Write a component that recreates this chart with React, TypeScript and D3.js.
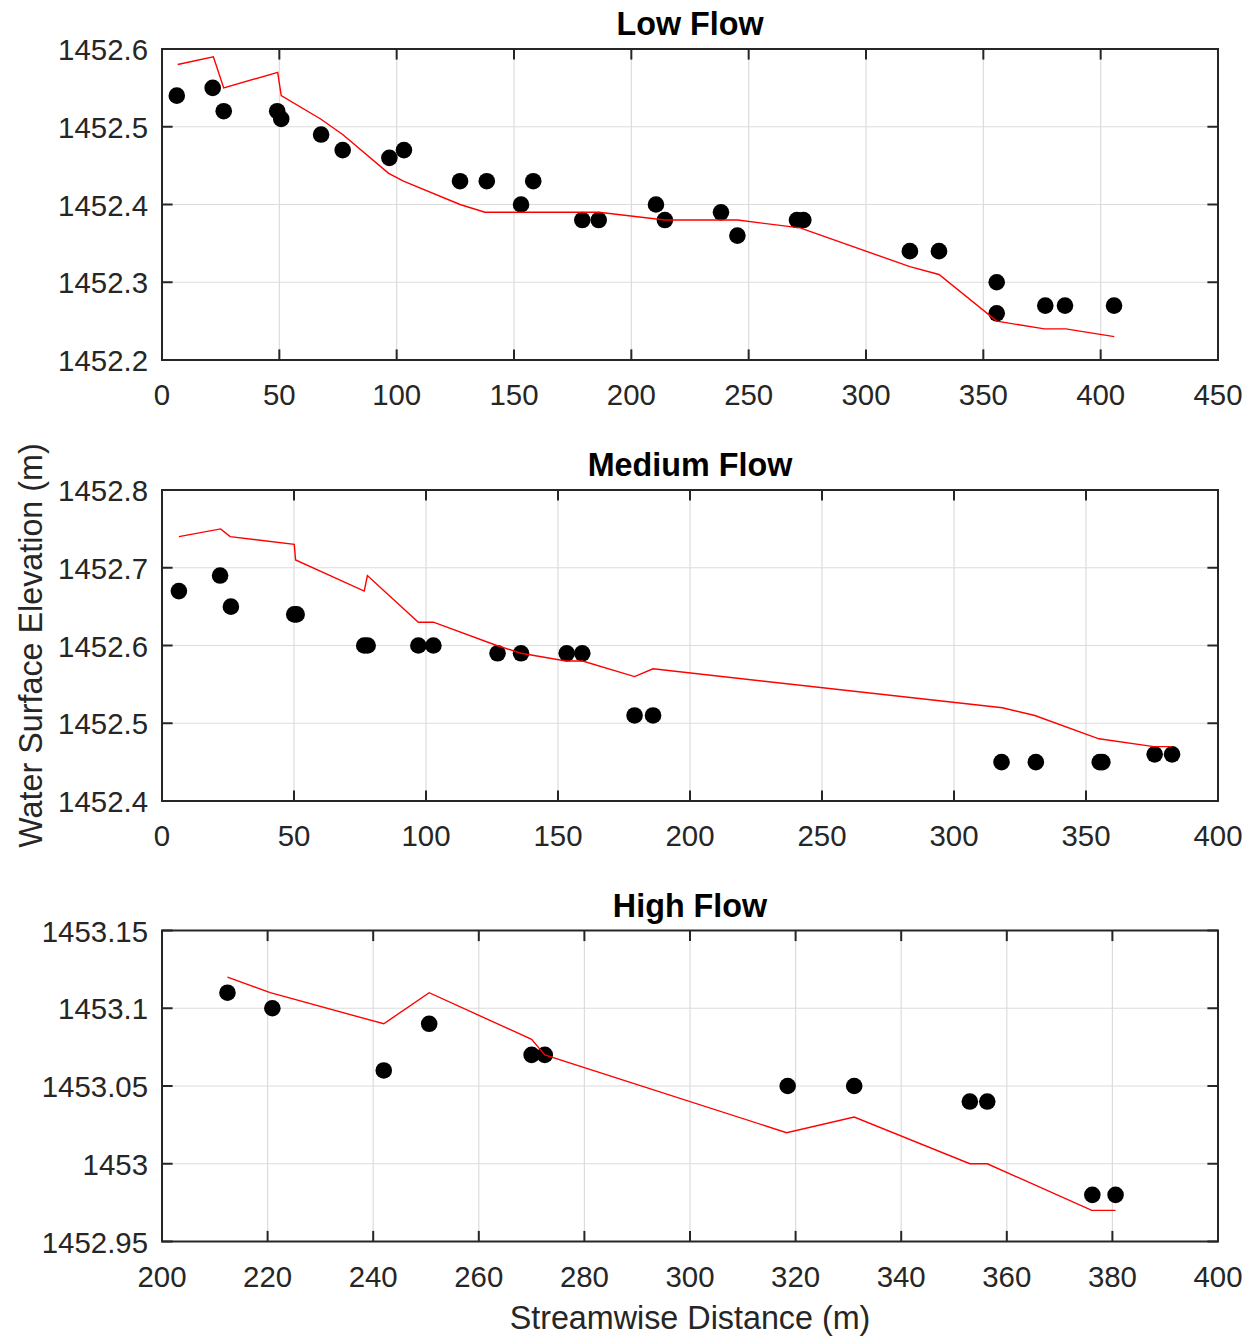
import React from 'react';
import * as d3 from 'd3';

// ---------- Data ----------
// Low Flow
const lowObsX = [6.3, 21.6, 26.3, 49.1, 50.8, 67.8, 77.0, 96.9, 103.1, 127.0, 138.4, 153.0, 158.2, 179.1, 186.1, 210.5, 214.3, 238.2, 245.2, 270.6, 273.3, 318.7, 331.1, 355.7, 355.7, 376.4, 384.8, 405.7];
const lowObsY = [1452.54, 1452.55, 1452.52, 1452.52, 1452.51, 1452.49, 1452.47, 1452.46, 1452.47, 1452.43, 1452.43, 1452.40, 1452.43, 1452.38, 1452.38, 1452.40, 1452.38, 1452.39, 1452.36, 1452.38, 1452.38, 1452.34, 1452.34, 1452.30, 1452.26, 1452.27, 1452.27, 1452.27];
const lowModX = [6.7, 21.9, 26.3, 49.3, 50.8, 67.6, 77.0, 96.6, 102.9, 127.0, 137.6, 186.2, 214.3, 245.3, 271.9, 318.7, 331.1, 355.7, 376.0, 385.2, 405.8];
const lowModY = [1452.58, 1452.59, 1452.55, 1452.57, 1452.54, 1452.51, 1452.49, 1452.44, 1452.43, 1452.40, 1452.39, 1452.39, 1452.38, 1452.38, 1452.37, 1452.32, 1452.31, 1452.25, 1452.24, 1452.24, 1452.23];
const lowXTicks = [0, 50, 100, 150, 200, 250, 300, 350, 400, 450];
const lowYTicks = [1452.2, 1452.3, 1452.4, 1452.5, 1452.6];

// Medium Flow
const medObsX = [6.4, 22.0, 26.1, 50.1, 51.0, 76.6, 77.9, 97.1, 102.8, 127.1, 136.0, 153.3, 159.2, 179.0, 186.0, 318.0, 331.0, 355.2, 356.2, 376.0, 382.6];
const medObsY = [1452.67, 1452.69, 1452.65, 1452.64, 1452.64, 1452.60, 1452.60, 1452.60, 1452.60, 1452.59, 1452.59, 1452.59, 1452.59, 1452.51, 1452.51, 1452.45, 1452.45, 1452.45, 1452.45, 1452.46, 1452.46];
const medModX = [6.4, 22.2, 25.8, 50.1, 50.6, 76.6, 77.8, 97.1, 102.8, 126.8, 136.0, 153.0, 159.3, 179.0, 186.0, 318.3, 330.6, 354.9, 375.7, 382.6];
const medModY = [1452.74, 1452.75, 1452.74, 1452.73, 1452.71, 1452.67, 1452.69, 1452.63, 1452.63, 1452.60, 1452.59, 1452.58, 1452.58, 1452.56, 1452.57, 1452.52, 1452.51, 1452.48, 1452.47, 1452.47];
const medXTicks = [0, 50, 100, 150, 200, 250, 300, 350, 400];
const medYTicks = [1452.4, 1452.5, 1452.6, 1452.7, 1452.8];

// High Flow
const highObsX = [212.4, 220.9, 242.0, 250.6, 270.0, 272.5, 318.5, 331.1, 353.0, 356.3, 376.2, 380.6];
const highObsY = [1453.11, 1453.10, 1453.06, 1453.09, 1453.07, 1453.07, 1453.05, 1453.05, 1453.04, 1453.04, 1452.98, 1452.98];
const highModX = [212.4, 220.5, 242.0, 250.6, 270.0, 272.5, 318.3, 331.1, 353.0, 356.3, 376.1, 380.6];
const highModY = [1453.12, 1453.11, 1453.09, 1453.11, 1453.08, 1453.07, 1453.02, 1453.03, 1453.00, 1453.00, 1452.97, 1452.97];
const highXTicks = [200, 220, 240, 260, 280, 300, 320, 340, 360, 380, 400];
const highYTicks = [1452.95, 1453.0, 1453.05, 1453.1, 1453.15];

// ---------- Layout ----------
const W = 1251;
const H = 1343;
const LEFT = 162;
const RIGHT = 1218;
const FONT = '"Liberation Sans", Arial, Helvetica, sans-serif';
const TXT = '#262626';
const TICK_FS = 29.4;
const LABEL_FS = 32.3;
const TICK_LEN = 10.6;

const fmt = (v: number) => String(Number(v.toFixed(2)));

type PanelProps = {
  title: string;
  top: number;
  bottom: number;
  xTicks: number[];
  yTicks: number[];
  obsX: number[];
  obsY: number[];
  modX: number[];
  modY: number[];
};

function Panel({ title, top, bottom, xTicks, yTicks, obsX, obsY, modX, modY }: PanelProps) {
  const x = d3.scaleLinear().domain([xTicks[0], xTicks[xTicks.length - 1]]).range([LEFT, RIGHT]);
  const y = d3.scaleLinear().domain([yTicks[0], yTicks[yTicks.length - 1]]).range([bottom, top]);
  const idx = d3.range(modX.length);
  const line = d3
    .line<number>()
    .x((i) => x(modX[i]))
    .y((i) => y(modY[i]));
  return (
    <g>
      {xTicks.map((t) => (
        <line key={'gx' + t} x1={x(t)} x2={x(t)} y1={top} y2={bottom} stroke="#dcdcdc" strokeWidth={1.2} />
      ))}
      {yTicks.map((t) => (
        <line key={'gy' + t} x1={LEFT} x2={RIGHT} y1={y(t)} y2={y(t)} stroke="#dcdcdc" strokeWidth={1.2} />
      ))}
      {obsX.map((v, i) => (
        <circle key={'o' + i} cx={x(v)} cy={y(obsY[i])} r={8.3} fill="#000" />
      ))}
      <path d={line(idx) || ''} fill="none" stroke="#ff0000" strokeWidth={1.4} />
      {xTicks.map((t) => (
        <g key={'tx' + t}>
          <line x1={x(t)} x2={x(t)} y1={bottom} y2={bottom - TICK_LEN} stroke={TXT} strokeWidth={2} />
          <line x1={x(t)} x2={x(t)} y1={top} y2={top + TICK_LEN} stroke={TXT} strokeWidth={2} />
          <text x={x(t)} y={bottom + 45} textAnchor="middle" fontSize={TICK_FS} fill={TXT} fontFamily={FONT}>
            {fmt(t)}
          </text>
        </g>
      ))}
      {yTicks.map((t) => (
        <g key={'ty' + t}>
          <line x1={LEFT} x2={LEFT + TICK_LEN} y1={y(t)} y2={y(t)} stroke={TXT} strokeWidth={2} />
          <line x1={RIGHT} x2={RIGHT - TICK_LEN} y1={y(t)} y2={y(t)} stroke={TXT} strokeWidth={2} />
          <text x={148} y={y(t) + 11} textAnchor="end" fontSize={TICK_FS} fill={TXT} fontFamily={FONT}>
            {fmt(t)}
          </text>
        </g>
      ))}
      <rect x={LEFT} y={top} width={RIGHT - LEFT} height={bottom - top} fill="none" stroke={TXT} strokeWidth={2} />
      <text
        x={(LEFT + RIGHT) / 2}
        y={top - 14}
        textAnchor="middle"
        fontSize={LABEL_FS}
        fontWeight="bold"
        fill="#000"
        fontFamily={FONT}
      >
        {title}
      </text>
    </g>
  );
}

export default function App() {
  return (
    <svg
      width={W}
      height={H}
      viewBox={`0 0 ${W} ${H}`}
      style={{ position: 'absolute', left: 0, top: 0, background: '#fff' }}
    >
      <rect x={0} y={0} width={W} height={H} fill="#fff" />
      <Panel
        title="Low Flow"
        top={49}
        bottom={360}
        xTicks={lowXTicks}
        yTicks={lowYTicks}
        obsX={lowObsX}
        obsY={lowObsY}
        modX={lowModX}
        modY={lowModY}
      />
      <Panel
        title="Medium Flow"
        top={490}
        bottom={801}
        xTicks={medXTicks}
        yTicks={medYTicks}
        obsX={medObsX}
        obsY={medObsY}
        modX={medModX}
        modY={medModY}
      />
      <Panel
        title="High Flow"
        top={930.5}
        bottom={1241.5}
        xTicks={highXTicks}
        yTicks={highYTicks}
        obsX={highObsX}
        obsY={highObsY}
        modX={highModX}
        modY={highModY}
      />
      <text
        transform={`translate(42,645.5) rotate(-90)`}
        textAnchor="middle"
        fontSize={LABEL_FS}
        fill={TXT}
        fontFamily={FONT}
      >
        Water Surface Elevation (m)
      </text>
      <text x={(LEFT + RIGHT) / 2} y={1329} textAnchor="middle" fontSize={LABEL_FS} fill={TXT} fontFamily={FONT}>
        Streamwise Distance (m)
      </text>
    </svg>
  );
}
